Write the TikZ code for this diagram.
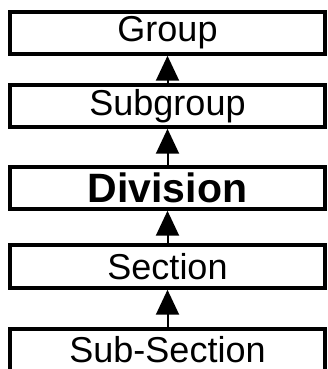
\documentclass[tikz,border=0pt]{standalone}
\usepackage{fontspec}
\setmainfont{Liberation Sans}
\usetikzlibrary{arrows.meta}
\usetikzlibrary{shapes,fit,calc}

\begin{document}
\begin{tikzpicture}[x=1pt,y=1pt]
    \newcommand{\boxwidth}[0]{ 315pt }
    \tikzstyle{dedge} = [line width=2pt,-{Triangle[length=25pt,width=23pt]},draw=black]
    \tikzstyle{level}=[
      rectangle,
      draw=black,
      line width=3.5pt,
      anchor=center,
      inner sep=0pt,
      minimum height=42pt,
      minimum width=\boxwidth,
      font=\fontsize{36}{38}\selectfont,
    ]
    \useasboundingbox (0,0) rectangle (328,369);

    \node[level] (group)      at (167.5,336) {Group};
    \node[level] (subgroup)   at (167.5,263) {Subgroup};
    \node[level,font=\fontsize{41}{43}\selectfont\bfseries] (division) at (167.5,181) {Division};
    \node[level,minimum height=43pt] (section) at (167.5,102.5) {Section};
    \node[level] (subsection) at (167.5,19) {Sub-Section};

    % lower level -> upper level
    \draw[dedge] (subgroup.north)   -- (group.south);
    \draw[dedge] (division.north)   -- (subgroup.south);
    \draw[dedge] (section.north)    -- (division.south);
    \draw[dedge] (subsection.north) -- (section.south);
\end{tikzpicture}
\end{document}
